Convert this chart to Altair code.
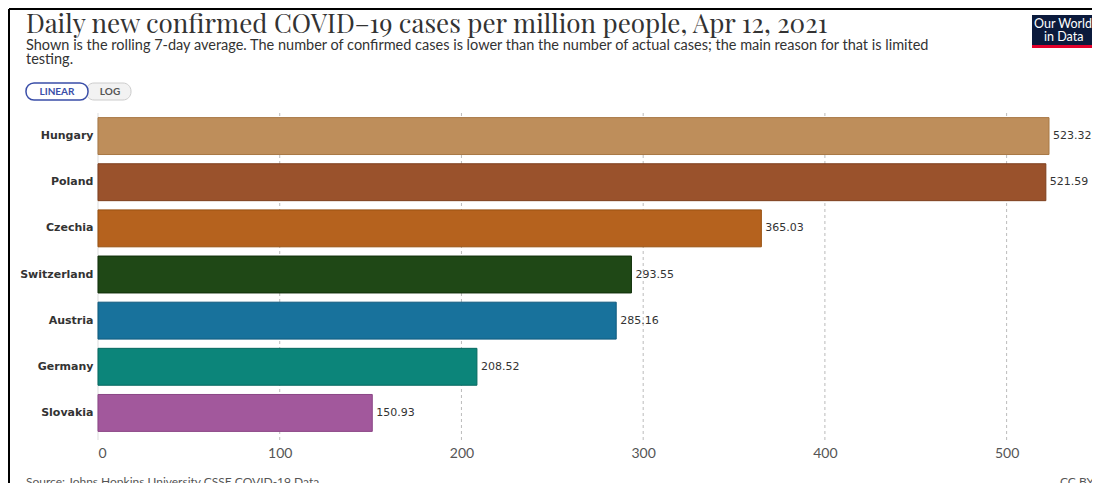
import altair as alt
import pandas as pd

countries = ["Hungary", "Poland", "Czechia", "Switzerland", "Austria", "Germany", "Slovakia"]
values = [523.32, 521.59, 365.03, 293.55, 285.16, 208.52, 150.93]
colors = ["#BE8E5B", "#9A522C", "#B5621E", "#1F4816", "#18729C", "#0C857A", "#A2589C"]
strokes = ["#A87845", "#7E3F1E", "#98500F", "#10300A", "#0F5A7D", "#066860", "#8A4585"]
ticks = [0, 100, 200, 300, 400, 500]

df = pd.DataFrame({"country": countries, "value": values, "color": colors, "stroke": strokes,
                   "label": [f"{v:.2f}" for v in values]})

W = 951
H = 323
ox, oy = 98, 113
xs = alt.Scale(domain=[0, 523.32], nice=False, zero=True)
ys = alt.Scale(domain=countries, paddingInner=0.2, paddingOuter=0.1)

grid = alt.Chart(pd.DataFrame({"t": ticks[1:]})).mark_rule(
    color="#bbbbbb", strokeDash=[3, 3], strokeWidth=1
).encode(x=alt.X("t:Q", scale=xs), y=alt.value(0), y2=alt.value(H + 4))

zero = alt.Chart(pd.DataFrame({"t": [0]})).mark_rule(color="#dddddd", strokeWidth=1).encode(
    x=alt.X("t:Q", scale=xs), y=alt.value(0), y2=alt.value(H + 4))

bars = alt.Chart(df).mark_bar(strokeWidth=1, opacity=1).encode(
    y=alt.Y("country:N", scale=ys, sort=countries,
            axis=alt.Axis(title=None, domain=False, ticks=False, labelFont="DejaVu Sans",
                          labelFontWeight="bold", labelFontSize=11, labelColor="#333333",
                          labelPadding=5)),
    x=alt.X("value:Q", scale=xs,
            axis=alt.Axis(title=None, values=ticks, grid=False, domain=False, ticks=False,
                          labelFont="Liberation Sans Narrow, Lato", labelFontSize=14,
                          labelColor="#555555", labelPadding=10, format="d")),
    color=alt.Color("color:N", scale=None),
    stroke=alt.Stroke("stroke:N", scale=None),
)

labels = alt.Chart(df).mark_text(align="left", baseline="middle", dx=4, font="DejaVu Sans",
                                 fontSize=11, color="#333333").encode(
    y=alt.Y("country:N", scale=ys, sort=countries), x=alt.X("value:Q", scale=xs), text="label:N")

def txt(s, x, y, **kw):
    return alt.Chart(pd.DataFrame({"s": [s]})).mark_text(align="left", baseline="alphabetic", **kw).encode(
        x=alt.value(x), y=alt.value(y), text="s:N")

title = txt("Daily new confirmed COVID–19 cases per million people, Apr 12, 2021", 26 - ox, 33 - oy,
            font="Playfair Display, Georgia, DejaVu Serif", fontSize=26, color="#333333")
sub1 = txt("Shown is the rolling 7-day average. The number of confirmed cases is lower than the number of actual cases; the main reason for that is limited",
           26 - ox, 50 - oy, font="Lato", fontSize=14.5, color="#333333")
sub2 = txt("testing.", 26 - ox, 64 - oy, font="Lato", fontSize=14.5, color="#333333")
source = txt("Source: Johns Hopkins University CSSE COVID-19 Data", 26 - ox, 486 - oy,
             font="Lato", fontSize=12, color="#555555")
ccby = txt("CC BY", 1060 - ox, 486 - oy, font="Lato", fontSize=12, color="#555555")

# buttons
btn_lin = alt.Chart(pd.DataFrame({"a": [0]})).mark_rect(
    fill="white", stroke="#3a4ea8", strokeWidth=1.5, cornerRadius=8).encode(
    x=alt.value(26 - ox), x2=alt.value(88 - ox), y=alt.value(83 - oy), y2=alt.value(100 - oy))
btn_log = alt.Chart(pd.DataFrame({"a": [0]})).mark_rect(
    fill="#f2f2f2", stroke="#cccccc", strokeWidth=1, cornerRadius=8).encode(
    x=alt.value(86 - ox), x2=alt.value(131 - ox), y=alt.value(83 - oy), y2=alt.value(100 - oy))
t_lin = alt.Chart(pd.DataFrame({"s": ["LINEAR"]})).mark_text(
    align="center", baseline="middle", font="Lato", fontSize=10, fontWeight="bold", color="#3a4ea8").encode(
    x=alt.value(57 - ox), y=alt.value(92 - oy), text="s:N")
t_log = alt.Chart(pd.DataFrame({"s": ["LOG"]})).mark_text(
    align="center", baseline="middle", font="Lato", fontSize=10, fontWeight="bold", color="#555555").encode(
    x=alt.value(110 - ox), y=alt.value(92 - oy), text="s:N")

# logo
logo_bg = alt.Chart(pd.DataFrame({"a": [0]})).mark_rect(fill="#0B1A3C").encode(
    x=alt.value(1032 - ox), x2=alt.value(1100 - ox), y=alt.value(15 - oy), y2=alt.value(45 - oy))
logo_red = alt.Chart(pd.DataFrame({"a": [0]})).mark_rect(fill="#E4002B").encode(
    x=alt.value(1032 - ox), x2=alt.value(1100 - ox), y=alt.value(45 - oy), y2=alt.value(48 - oy))
logo_t1 = txt("Our World", 1034 - ox, 28 - oy, font="Lato", fontSize=12.5, color="white")
logo_t2 = txt("in Data", 1044 - ox, 41 - oy, font="Lato", fontSize=12.5, color="white")

# screenshot frame
frame_top = alt.Chart(pd.DataFrame({"a": [0]})).mark_rule(color="black", strokeWidth=2).encode(
    x=alt.value(9 - ox), x2=alt.value(1100 - ox), y=alt.value(9 - oy))
frame_left = alt.Chart(pd.DataFrame({"a": [0]})).mark_rule(color="black", strokeWidth=2).encode(
    x=alt.value(9 - ox), y=alt.value(9 - oy), y2=alt.value(483 - oy))

chart = alt.layer(
    grid, zero, bars, labels, title, sub1, sub2, source, ccby,
    btn_log, btn_lin, t_lin, t_log, logo_bg, logo_red, logo_t1, logo_t2, frame_top, frame_left
).properties(
    width=W, height=H,
    autosize=alt.AutoSizeParams(type="none"),
    padding={"left": ox - 8, "top": oy - 8, "right": 1084 - (ox - 8) - W, "bottom": 475 - (oy - 8) - H},
    background="white",
).configure_view(stroke=None)

chart.save("out.html", embed_options={"renderer": "svg", "actions": False})
